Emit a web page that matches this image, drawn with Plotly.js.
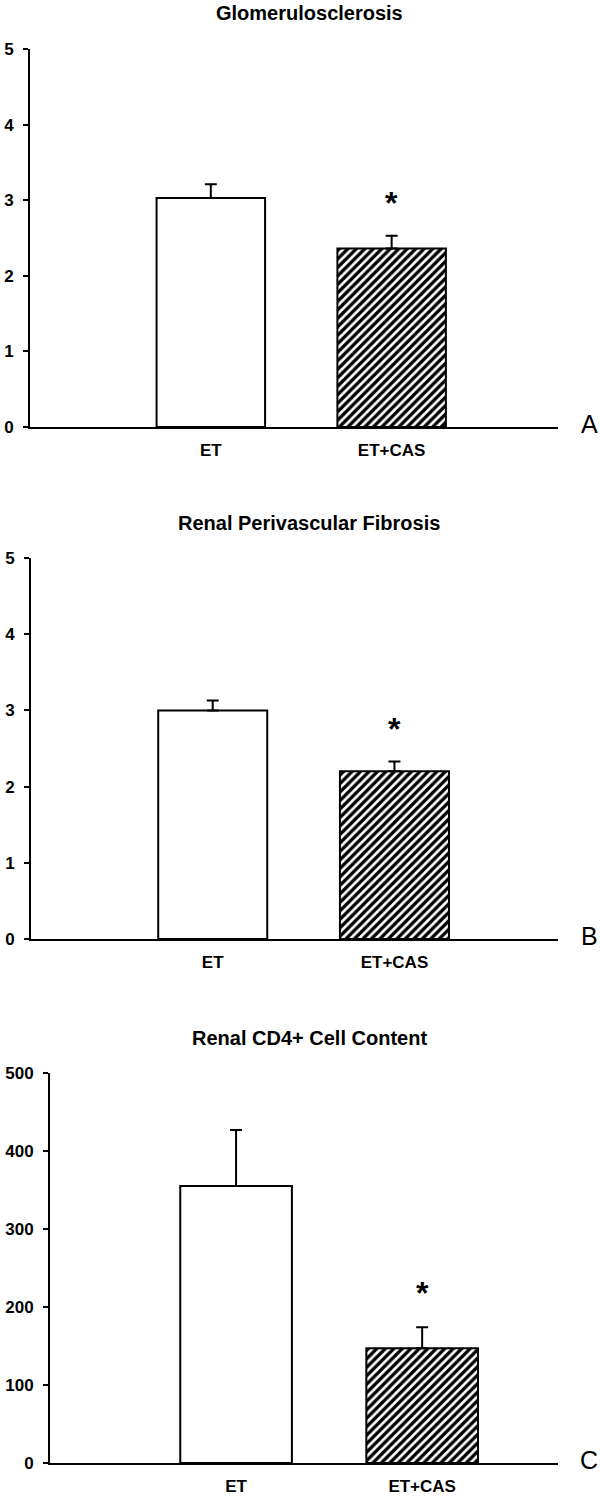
<!DOCTYPE html>
<html>
<head>
<meta charset="utf-8">
<script src="https://cdn.plot.ly/plotly-3.0.1.min.js"></script>
<style>
  html, body { margin: 0; padding: 0; background: #fff; }
  #chart { width: 600px; height: 1497px; }
</style>
</head>
<body>
<div id="chart"></div>
<script>
// Data

const groups = ["ET", "ET+CAS"];

// Panel A - Glomerulosclerosis
const glomValues = [3.03, 2.36];
const glomErrors = [0.18, 0.17];
const glomStars = [null, 2.96];

// Panel B - Renal Perivascular Fibrosis
const fibValues = [3.0, 2.2];
const fibErrors = [0.13, 0.13];
const fibStars = [null, 2.76];

// Panel C - Renal CD4+ Cell Content
const cd4Values = [355, 147];
const cd4Errors = [72, 27];
const cd4Stars = [null, 218];

const panelTitles = [
  "Glomerulosclerosis",
  "Renal Perivascular Fibrosis",
  "Renal CD4+ Cell Content",
];
const panelLetters = ["A", "B", "C"];

// Layout helpers

const FONT = "Liberation Sans, Arial, sans-serif";
const H = 1497;
const W = 600;

const fy = (px) => 1 - px / H;
const fx = (px) => px / W;

// pixel boxes for each panel: left, right, top, bottom
const panelBoxes = [
  { l: 30, r: 558, t: 49, b: 427, titleY: 13 },
  { l: 31, r: 558, t: 558, b: 939, titleY: 523 },
  { l: 50, r: 558, t: 1073, b: 1463, titleY: 1038 },
];

// one trace per bar so each can carry its own fill
const makeBar = function (idx, values, errors, axisNum, hatched) {
  const suffix = axisNum === 1 ? "" : axisNum;
  return {
    type: "bar",
    x: [groups[idx]],
    y: [values[idx]],
    xaxis: "x" + suffix,
    yaxis: "y" + suffix,
    width: 0.6,
    marker: {
      color: "#ffffff",
      line: { color: "#000", width: 2 },
      pattern: hatched
        ? {
            shape: "/",
            fgcolor: "#000",
            fgopacity: 1,
            bgcolor: "#fff",
            fillmode: "replace",
            size: 6,
            solidity: 0.55,
          }
        : { shape: "" },
    },
    error_y: {
      type: "data",
      symmetric: false,
      array: [errors[idx]],
      arrayminus: [0],
      color: "#000",
      thickness: 2,
      width: 6,
    },
    hoverinfo: "skip",
    showlegend: false,
  };
};

const data = [
  makeBar(0, glomValues, glomErrors, 1, false),
  makeBar(1, glomValues, glomErrors, 1, true),
  makeBar(0, fibValues, fibErrors, 2, false),
  makeBar(1, fibValues, fibErrors, 2, true),
  makeBar(0, cd4Values, cd4Errors, 3, false),
  makeBar(1, cd4Values, cd4Errors, 3, true),
];

const xRanges = [
  [-1.0, 1.92],
  [-1.0, 1.9],
  [-1.0, 1.73],
];
const yRanges = [
  [0, 5],
  [0, 5],
  [0, 500],
];
const yDticks = [1, 1, 100];

const layout = {
  width: W,
  height: H,
  margin: { l: 0, r: 0, t: 0, b: 0 },
  paper_bgcolor: "#fff",
  plot_bgcolor: "rgba(0,0,0,0)",
  font: { family: FONT, color: "#000" },
  barmode: "overlay",
  annotations: [],
};

panelBoxes.forEach((box, i) => {
  const suffix = i === 0 ? "" : i + 1;
  layout["xaxis" + suffix] = {
    domain: [fx(box.l), fx(box.r)],
    anchor: "y" + suffix,
    type: "category",
    categoryarray: groups,
    range: xRanges[i],
    showline: true,
    linecolor: "#000",
    linewidth: 2,
    showgrid: false,
    zeroline: false,
    ticks: "",
    ticklabelstandoff: 7,
    tickfont: { family: FONT, size: 17, color: "#000", weight: "bold" },
    fixedrange: true,
  };
  layout["yaxis" + suffix] = {
    domain: [fy(box.b), fy(box.t)],
    anchor: "x" + suffix,
    range: yRanges[i],
    dtick: yDticks[i],
    tick0: 0,
    showline: true,
    linecolor: "#000",
    linewidth: 2,
    showgrid: false,
    zeroline: false,
    ticks: "outside",
    ticklen: 5,
    tickwidth: 2,
    tickcolor: "#000",
    ticklabelstandoff: 6,
    tickfont: { family: FONT, size: 17, color: "#000", weight: "bold" },
    fixedrange: true,
  };

  // panel title
  layout.annotations.push({
    xref: "paper",
    yref: "paper",
    x: 0.515,
    y: fy(box.titleY),
    xanchor: "center",
    yanchor: "middle",
    showarrow: false,
    text: "<b>" + panelTitles[i] + "</b>",
    font: { family: FONT, size: 20, color: "#000" },
  });

  // panel letter
  layout.annotations.push({
    xref: "paper",
    yref: "paper",
    x: fx(589),
    y: fy(box.b - 3),
    xanchor: "center",
    yanchor: "middle",
    showarrow: false,
    text: panelLetters[i],
    font: { family: FONT, size: 25, color: "#000" },
  });
});

// significance stars
const starSets = [glomStars, fibStars, cd4Stars];
starSets.forEach((stars, i) => {
  const suffix = i === 0 ? "" : i + 1;
  stars.forEach((val, j) => {
    if (val === null) return;
    layout.annotations.push({
      xref: "x" + suffix,
      yref: "y" + suffix,
      x: j,
      y: val,
      xanchor: "center",
      yanchor: "middle",
      showarrow: false,
      text: "<b>*</b>",
      font: { family: FONT, size: 32, color: "#000" },
    });
  });
});

Plotly.newPlot("chart", data, layout, {
  displayModeBar: false,
  staticPlot: true,
});
</script>
</body>
</html>
